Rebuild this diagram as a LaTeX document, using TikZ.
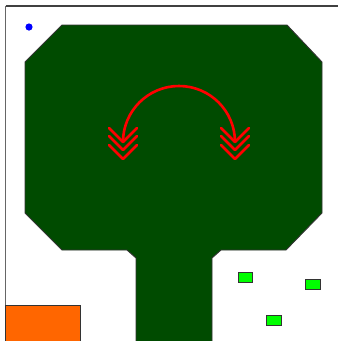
\documentclass[tikz,border=0pt]{standalone}
\definecolor{darkg}{RGB}{0,75,0}
\definecolor{brightg}{RGB}{0,255,0}
\definecolor{orng}{RGB}{255,102,0}
\tikzset{
  outl/.style={draw=black!80, line width=0.9pt},
  redline/.style={draw=red, line width=2.6pt, line cap=round, line join=round},
  frame/.style={draw=black!75, line width=1.3pt},
  chip/.style={outl, fill=brightg}
}
\begin{document}
\begin{tikzpicture}[x=1pt,y=-1pt]
\useasboundingbox (0,0) rectangle (338,341);
\fill[white] (0,0) rectangle (338,341);
% frame
\draw[frame] (5.5,6) -- (338,6);
\draw[draw=black!60, line width=1.3pt] (5.5,6) -- (5.5,341);
% main shape
\draw[outl, fill=darkg] (62,25) -- (287,25) -- (322,62) -- (322,213) -- (286,250) -- (221,250) -- (212,258) -- (212,345) -- (136,345) -- (136,258) -- (127,250) -- (62,250) -- (25,213) -- (25,62) -- cycle;
% orange block
\draw[outl, fill=orng] (5.5,305) rectangle (80,345);
% small green chips
\draw[chip] (238,272) rectangle (252,282);
\draw[chip] (305,279) rectangle (320,289);
\draw[chip] (266,315) rectangle (281,325);
% blue dot
\fill[blue] (29,27) circle (3.6);
% red arc
\draw[redline] (123,142) arc[start angle=180, end angle=360, radius=56];
\foreach \cx in {123,235}{
  \foreach \ay in {142,150,159}{
    \draw[redline] (\cx-14,\ay-14) -- (\cx,\ay) -- (\cx+14,\ay-14);
  }
}
\end{tikzpicture}
\end{document}
